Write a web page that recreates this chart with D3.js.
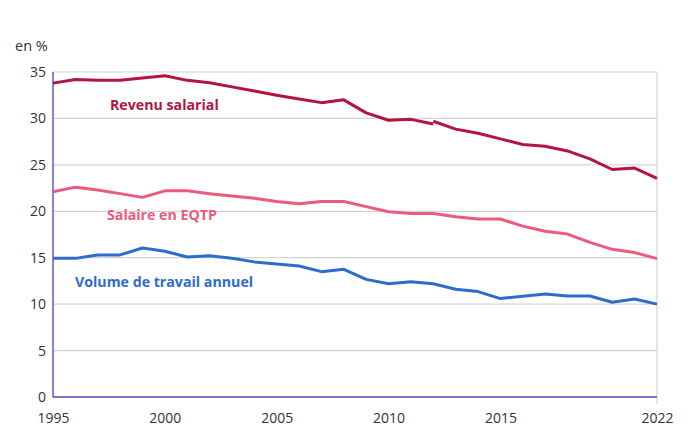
<!DOCTYPE html>
<html>
<head>
<meta charset="utf-8">
<script src="https://cdn.jsdelivr.net/npm/d3@7"></script>
<style>
  html, body { margin: 0; padding: 0; background: #fff; }
  svg { display: block; font-family: "Open Sans", "Noto Sans", sans-serif; }
</style>
</head>
<body>
<svg id="chart" width="695" height="446"></svg>
<script>
// ---- Data ----
const years = d3.range(1995, 2023);
const revenuSalarial1 = [33.8, 34.2, 34.1, 34.1, 34.35, 34.6, 34.1, 33.85, 33.4, 32.95, 32.5, 32.1, 31.7, 32.0, 30.6, 29.8, 29.9, 29.4];           // 1995-2012
const revenuSalarial2 = [29.7, 28.85, 28.4, 27.8, 27.2, 27.0, 26.5, 25.65, 24.5, 24.65, 23.55];                                                  // 2012-2022
const salaireEQTP = [22.1, 22.6, 22.3, 21.9, 21.5, 22.2, 22.2, 21.9, 21.65, 21.4, 21.05, 20.8, 21.05, 21.05, 20.5, 19.95, 19.75, 19.75, 19.4, 19.17, 19.17, 18.4, 17.85, 17.55, 16.65, 15.9, 15.55, 14.9];
const volumeTravail = [14.93, 14.93, 15.3, 15.3, 16.05, 15.7, 15.07, 15.2, 14.95, 14.55, 14.33, 14.1, 13.5, 13.75, 12.67, 12.2, 12.4, 12.2, 11.6, 11.35, 10.6, 10.85, 11.1, 10.88, 10.88, 10.2, 10.55, 10.0];
const yTicks = [0, 5, 10, 15, 20, 25, 30, 35];
const xTickLabels = [1995, 2000, 2005, 2010, 2015, 2022];
const seriesNames = ["Revenu salarial", "Salaire en EQTP", "Volume de travail annuel"];
const unitLabel = "en %";

// ---- Layout ----
const svg = d3.select("#chart");
const x = d3.scaleLinear().domain([1995, 2022]).range([53, 657]);
const y = d3.scaleLinear().domain([0, 35]).range([397, 72]);

const colors = { red: "#b3153f", pink: "#ee5a7b", blue: "#2d6ccd" };

// gridlines
svg.append("g").selectAll("line").data(yTicks.filter(d => d > 0)).join("line")
  .attr("x1", 53).attr("x2", 657)
  .attr("y1", d => y(d)).attr("y2", d => y(d))
  .attr("stroke", "#d4d4d4").attr("stroke-width", 1.2);

// right border
svg.append("line").attr("x1", 657).attr("x2", 657).attr("y1", y(35)).attr("y2", 404)
  .attr("stroke", "#d4d4d4").attr("stroke-width", 1.2);

// y axis
const yAxis = d3.axisLeft(y).tickValues(yTicks).tickSize(0).tickPadding(7);
const gy = svg.append("g").attr("transform", "translate(53,0)").call(yAxis);
gy.select(".domain").remove();
gy.selectAll("text").attr("font-size", 14).attr("fill", "#333").attr("font-family", "\"Open Sans\", sans-serif");

// x axis
const xAxis = d3.axisBottom(x).tickValues(xTickLabels).tickFormat(d3.format("d")).tickSize(0).tickPadding(16);
const gx = svg.append("g").attr("transform", "translate(0,397)").call(xAxis);
gx.select(".domain").remove();
gx.selectAll("text").attr("font-size", 14).attr("fill", "#333").attr("font-family", "\"Open Sans\", sans-serif");

// axis lines
svg.append("line").attr("x1", 53).attr("x2", 53).attr("y1", y(35)).attr("y2", y(0))
  .attr("stroke", "#5c5cc6").attr("stroke-width", 1.5);
svg.append("line").attr("x1", 53).attr("x2", 657).attr("y1", y(0)).attr("y2", y(0))
  .attr("stroke", "#4a4ab8").attr("stroke-width", 1.5);

// unit label
svg.append("text").attr("x", 15).attr("y", 51).text(unitLabel)
  .attr("font-size", 14.5).attr("fill", "#333");

// lines
const line = d3.line().x(d => x(d[0])).y(d => y(d[1]));
function draw(yrs, vals, color) {
  svg.append("path").datum(yrs.map((yr, i) => [yr, vals[i]]))
    .attr("d", line).attr("fill", "none").attr("stroke", color)
    .attr("stroke-width", 3).attr("stroke-linejoin", "round");
}
draw(years, salaireEQTP, colors.pink);
draw(years, volumeTravail, colors.blue);
draw(years.slice(0, 18), revenuSalarial1, colors.red);
draw(years.slice(17), revenuSalarial2, colors.red);

// series labels
const labels = [
  { t: seriesNames[0], x: 110, y: 110, c: colors.red },
  { t: seriesNames[1], x: 107, y: 220, c: colors.pink },
  { t: seriesNames[2], x: 75, y: 287, c: colors.blue }
];
svg.append("g").selectAll("text").data(labels).join("text")
  .attr("x", d => d.x).attr("y", d => d.y).text(d => d.t)
  .attr("fill", d => d.c).attr("font-size", 14.2).attr("font-weight", "bold");
</script>
</body>
</html>
